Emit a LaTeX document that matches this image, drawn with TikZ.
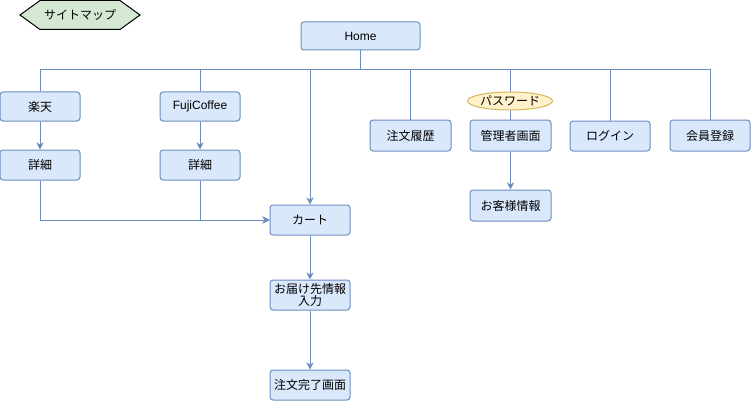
\documentclass[tikz,border=0pt]{standalone}
\usepackage{fontspec}
\setmainfont{Liberation Sans}
\newfontfamily\jp{Noto Sans CJK JP}
\usetikzlibrary{arrows.meta,shapes.geometric}
\definecolor{bfill}{HTML}{DAE8FC}
\definecolor{bdraw}{HTML}{6C8EBF}
\definecolor{gfill}{HTML}{D5E8D4}
\definecolor{yfill}{HTML}{FFF2CC}
\definecolor{ydraw}{HTML}{D6B656}
\tikzset{
  pagebox/.style={draw=bdraw,fill=bfill,rounded corners=3pt,line width=1pt,
    minimum width=80pt,minimum height=30pt,inner sep=1pt,align=center,
    font=\fontsize{12}{13}\selectfont\jp},
  conn/.style={draw=bdraw,line width=1pt},
  arr/.style={conn,-{Stealth[length=7pt,width=7pt,inset=2pt]}},
}
\begin{document}
\begin{tikzpicture}[x=1pt,y=-1pt]
\useasboundingbox (0,0) rectangle (751,401);
% hexagon label
\draw[fill=gfill,draw=black,line width=1pt] (20,15)--(40,0.5)--(120,0.5)--(140,15)--(120,29.5)--(40,29.5)--cycle;
\node[font=\fontsize{12}{13}\selectfont\jp] (sitemap) at (80,15) {サイトマップ};
% nodes
\node[pagebox,minimum width=119pt,minimum height=28pt,font=\fontsize{12}{13}\selectfont] (home) at (360.5,36) {Home};
\node[pagebox,minimum height=29pt] (rakuten) at (40,106.5) {楽天};
\node[pagebox] (d1) at (40,165) {詳細};
\node[pagebox,minimum height=29pt,font=\fontsize{12}{13}\selectfont] (fuji) at (200,106.5) {FujiCoffee};
\node[pagebox] (d2) at (200,165) {詳細};
\node[pagebox] (cart) at (310,220) {カート};
\node[pagebox,inner sep=0pt] (deliv) at (310,295) {お届け先情報\\[-1pt]入力};
\node[pagebox] (done) at (310,385) {注文完了画面};
\node[pagebox,minimum width=81pt,minimum height=31pt] (rireki) at (410.5,135.5) {注文履歴};
\node[pagebox,minimum width=81pt,minimum height=31pt] (kanri) at (510.5,135.5) {管理者画面};
\node[pagebox,minimum height=30pt] (login) at (610,136) {ログイン};
\node[pagebox,minimum height=31pt] (kaiin) at (710,135.5) {会員登録};
\node[pagebox,minimum width=81pt,minimum height=31pt] (kyaku) at (510.5,205.5) {お客様情報};
% bus
\coordinate (bus) at (360.5,70);
\draw[conn] (home.south) -- (bus);
\draw[conn] (bus) -| (rakuten.north);
\draw[conn] (bus) -| (fuji.north);
\draw[arr] (bus) -| (cart.north);
\draw[conn] (bus) -| (rireki.north);
\draw[conn] (bus) -| (kanri.north);
\draw[conn] (bus) -| (login.north);
\draw[conn] (bus) -| (kaiin.north);
% arrows
\draw[arr] (rakuten) -- (d1);
\draw[arr] (fuji) -- (d2);
\draw[arr] (d1.south) |- (cart.west);
\draw[arr] (d2.south) |- (cart.west);
\draw[arr] (cart) -- (deliv);
\draw[arr] (deliv) -- (done);
\draw[arr] (kanri) -- (kyaku);
% password label
\node[ellipse,draw=ydraw,fill=yfill,line width=1pt,minimum width=70pt,minimum height=18pt,inner sep=0pt,font=\fontsize{12}{13}\selectfont\jp] (pw) at (510,101) {パスワード};
\end{tikzpicture}
\end{document}
